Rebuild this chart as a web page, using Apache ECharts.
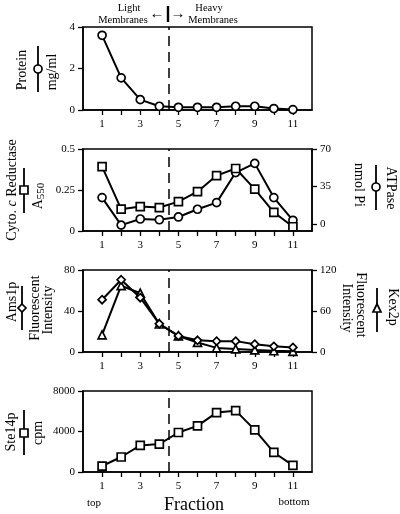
<!DOCTYPE html>
<html><head><meta charset="utf-8">
<script src="https://cdn.jsdelivr.net/npm/echarts@6/dist/echarts.min.js"></script>
<style>html,body{margin:0;padding:0;background:#fff}#c{width:400px;height:514px}</style>
</head><body><div id="c"></div>
<script>
// ---- data ----
const fractions = [1, 2, 3, 4, 5, 6, 7, 8, 9, 10, 11];
const protein = [3.6, 1.55, 0.5, 0.18, 0.13, 0.13, 0.13, 0.18, 0.18, 0.07, 0.02];
const cytoC = [0.393, 0.133, 0.149, 0.143, 0.179, 0.24, 0.338, 0.381, 0.255, 0.114, 0.026];
const atpase = [24.7, -1, 4.7, 4, 6.6, 13.8, 20, 48, 56.6, 24.7, 3.5];
const ams1p = [51, 70.5, 53, 27.5, 15.7, 11.4, 10.6, 10.6, 7.6, 5.5, 4.5];
const kex2p = [25, 97, 86, 41, 23.5, 14, 6, 4.5, 3, 1.8, 1];
const ste14p = [590, 1480, 2620, 2760, 3900, 4560, 5870, 6060, 4160, 1930, 650];
const xTickValues = [1, 2, 3, 4, 5, 6, 7, 8, 9, 10, 11];
const xLabelValues = [1, 3, 5, 7, 9, 11];
const atpaseTicks = [0, 35, 70];
const boundary = 4.5;

// ---- build ----
const FONT = 'Liberation Serif';
const chart = echarts.init(document.getElementById('c'), null, {renderer: 'canvas'});
const pairs = arr => fractions.map((f, i) => [f, arr[i]]);

const grids = [
  {left: 83, right: 88, top: 27, height: 83},
  {left: 83, right: 88, top: 149, height: 82},
  {left: 83, right: 88, top: 270, height: 82},
  {left: 83, right: 88, top: 391, height: 81}
].map(g => Object.assign(g, {show: true, borderColor: '#000', borderWidth: 1.5, backgroundColor: 'transparent'}));

const axisLine = {show: true, lineStyle: {color: '#000', width: 1.5}};
const lbl = {color: '#000', fontFamily: FONT, fontSize: 11, formatter: v => String(v)};

const xAxes = grids.map((g, i) => ({
  type: 'value', gridIndex: i, min: 0, max: 12, interval: 1,
  axisLine: axisLine, splitLine: {show: false},
  axisTick: {show: true, length: 5, lineStyle: {color: '#000', width: 1.3}, customValues: xTickValues},
  axisLabel: Object.assign({margin: 9, customValues: xLabelValues}, lbl)
}));

function yAx(gi, min, max, interval, pos, custom) {
  const a = {
    type: 'value', gridIndex: gi, min: min, max: max, position: pos || 'left',
    axisLine: axisLine, splitLine: {show: false},
    axisTick: {show: true, length: 5, lineStyle: {color: '#000', width: 1.3}},
    axisLabel: Object.assign({margin: 8}, lbl)
  };
  if (interval) a.interval = interval;
  if (custom) { a.axisTick.customValues = custom; a.axisLabel.customValues = custom; }
  return a;
}
const yAxes = [
  yAx(0, 0, 4, 2),
  yAx(1, 0, 0.5, 0.25),
  yAx(1, -6.5, 70, null, 'right', atpaseTicks),
  yAx(2, 0, 80, 40),
  yAx(2, 0, 120, 60, 'right'),
  yAx(3, 0, 8000, 4000)
];

const mark = {
  silent: true, symbol: ['none', 'none'], label: {show: false},
  lineStyle: {color: '#000', width: 1.5, type: [10, 6]},
  emphasis: {disabled: true},
  data: [{xAxis: boundary}]
};
function ser(data, xi, yi, symbol, withMark) {
  const s = {
    type: 'line', xAxisIndex: xi, yAxisIndex: yi, data: pairs(data),
    symbol: symbol, symbolSize: 8, showAllSymbol: true,
    lineStyle: {color: '#000', width: 2},
    itemStyle: {color: '#fff', borderColor: '#000', borderWidth: 1.7},
    emphasis: {disabled: true}, animation: false, z: 3
  };
  if (withMark) s.markLine = mark;
  return s;
}
const series = [
  ser(protein, 0, 0, 'circle', true),
  ser(atpase, 1, 2, 'circle', true),
  ser(cytoC, 1, 1, 'rect', false),
  ser(kex2p, 2, 4, 'triangle', true),
  ser(ams1p, 2, 3, 'diamond', false),
  ser(ste14p, 3, 5, 'rect', true)
];

// ---- decorations ----
const T = (text, x, y, size, rot, extra) => ({
  type: 'text', x: x, y: y, rotation: rot || 0, z: 10,
  style: Object.assign({text: text, fill: '#000', font: size + 'px "' + FONT + '"', align: 'center', verticalAlign: 'middle'}, extra || {})
});
const L = (x1, y1, x2, y2, w) => ({type: 'line', z: 10, shape: {x1: x1, y1: y1, x2: x2, y2: y2}, style: {stroke: '#000', lineWidth: w || 1.8}});
const open = {fill: '#fff', stroke: '#000', lineWidth: 1.7};
function legendMark(x, y1, y2, ym, shape) {
  const out = [L(x, y1, x, y2)];
  const r = 4;
  if (shape === 'circle') out.push({type: 'circle', z: 11, shape: {cx: x, cy: ym, r: r}, style: open});
  if (shape === 'rect') out.push({type: 'rect', z: 11, shape: {x: x - r, y: ym - r, width: 2 * r, height: 2 * r}, style: open});
  if (shape === 'diamond') out.push({type: 'polygon', z: 11, shape: {points: [[x, ym - r], [x + r, ym], [x, ym + r], [x - r, ym]]}, style: open});
  if (shape === 'triangle') out.push({type: 'polygon', z: 11, shape: {points: [[x, ym - r], [x + r, ym + r], [x - r, ym + r]]}, style: open});
  return out;
}
const UP = Math.PI / 2, DOWN = -Math.PI / 2;
const TS = 14;
const graphic = [].concat(
  // header
  T('Light', 129, 8, 10.5), T('Membranes', 123, 20, 10.5),
  T('\u2190', 157, 14, 15), [L(168, 6, 168, 22, 2.4)], T('\u2192', 178, 14, 15),
  T('Heavy', 209, 8, 10.5), T('Membranes', 213, 20, 10.5),
  // panel 1
  T('Protein', 22, 70, TS, UP), legendMark(38, 46, 92, 69, 'circle'), T('mg/ml', 52, 72, TS, UP),
  // panel 2 left
  {type: 'text', x: 12, y: 190, rotation: UP, z: 10, style: {
    text: '{n|Cyto. }{i|c}{n| Reductase}', align: 'center', verticalAlign: 'middle',
    rich: {n: {font: TS + 'px "' + FONT + '"', fill: '#000'}, i: {font: 'italic ' + TS + 'px "' + FONT + '"', fill: '#000'}}}},
  legendMark(24, 168, 213, 190, 'rect'),
  {type: 'text', x: 38, y: 196, rotation: UP, z: 10, style: {
    text: '{a|A}{s|550}', align: 'center', verticalAlign: 'middle',
    rich: {a: {font: TS + 'px "' + FONT + '"', fill: '#000', lineHeight: 18},
           s: {font: '11px "' + FONT + '"', fill: '#000', lineHeight: 18, verticalAlign: 'bottom'}}}},
  // panel 2 right
  T('nmol Pi', 359, 185, TS, DOWN), legendMark(376, 165, 210, 187, 'circle'), T('ATPase', 391, 188, TS, DOWN),
  // panel 3 left
  T('Ams1p', 12, 302, TS, UP), legendMark(22, 286, 330, 308, 'diamond'),
  T('Fluorescent', 35, 308, TS, UP), T('Intensity', 48, 310, TS, UP),
  // panel 3 right
  T('Intensity', 347, 308, TS, DOWN), T('Fluorescent', 361, 305, TS, DOWN),
  legendMark(377, 288, 332, 308, 'triangle'), T('Kex2p', 393, 307, TS, DOWN),
  // panel 4
  T('Ste14p', 11, 432, TS, UP), legendMark(24, 410, 455, 433, 'rect'), T('cpm', 38, 433, TS, UP),
  // bottom
  T('top', 94, 503, 11), T('Fraction', 194, 505, 18), T('bottom', 294, 502, 11)
);

chart.setOption({
  animation: false,
  backgroundColor: '#fff',
  grid: grids,
  xAxis: xAxes,
  yAxis: yAxes,
  series: series,
  graphic: graphic
});
</script>
</body></html>
